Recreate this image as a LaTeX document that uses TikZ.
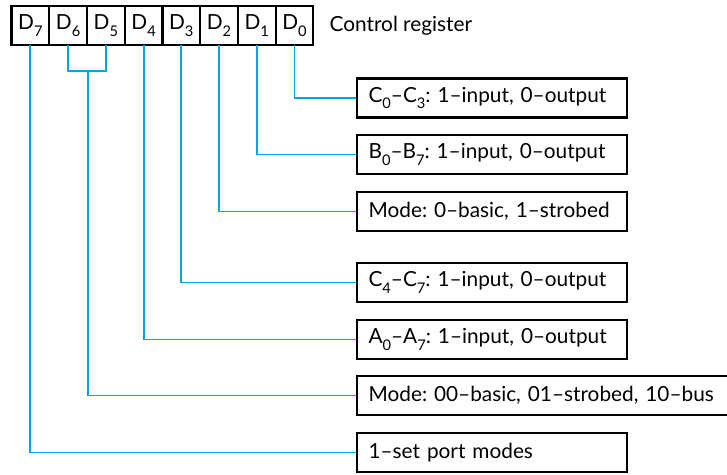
\documentclass[tikz,border=0pt]{standalone}
\usepackage{fontspec}
\setmainfont{Lato}
\usetikzlibrary{positioning}
\definecolor{wire}{RGB}{0,165,230}
\newcommand{\idx}[1]{\raisebox{-0.6ex}{\fontsize{11}{11}\selectfont #1}}
\frenchspacing

\begin{document}
\begin{tikzpicture}[
    x=0.75pt, y=-0.75pt,
    every node/.style={font=\fontsize{15.6}{18}\selectfont},
    cell/.style={draw, line width=1.6pt, minimum width=28.3pt, minimum height=29.25pt, inner sep=0pt, outer sep=0pt},
    infobox/.style={draw, line width=1.6pt, anchor=west, minimum height=29.25pt, inner xsep=9pt, text width=184.5pt, align=left},
    widebox/.style={infobox, text width=266.6pt},
    link/.style={draw=wire, line width=1.4pt}
]
\useasboundingbox (0,0) rectangle (727,474);

% Control register
\node[cell] (d7) at (30.4,25.5) {D\idx{7}};
\node[cell, right=0pt of d7] (d6) {D\idx{6}};
\node[cell, right=0pt of d6] (d5) {D\idx{5}};
\node[cell, right=0pt of d5] (d4) {D\idx{4}};
\node[cell, right=0pt of d4] (d3) {D\idx{3}};
\node[cell, right=0pt of d3] (d2) {D\idx{2}};
\node[cell, right=0pt of d2] (d1) {D\idx{1}};
\node[cell, right=0pt of d1] (d0) {D\idx{0}};
\node[right=12pt of d0, inner sep=0pt] (title) {Control register};

% Bit descriptions
\node[infobox] (c03) at (355.5,98) {C\idx{0}--C\idx{3}: 1--input, 0--output};
\node[infobox] (b07) at (355.5,154.5) {B\idx{0}--B\idx{7}: 1--input, 0--output};
\node[infobox] (modeb) at (355.5,211.5) {Mode: 0--basic, 1--strobed};
\node[infobox] (c47) at (355.5,282.5) {C\idx{4}--C\idx{7}: 1--input, 0--output};
\node[infobox] (a07) at (355.5,339.5) {A\idx{0}--A\idx{7}: 1--input, 0--output};
\node[widebox] (modea) at (355.5,395.5) {Mode: 00--basic, 01--strobed, 10--bus};
\node[infobox] (setmode) at (355.5,452.5) {1--set port modes};

% Connectors
\coordinate (join) at (88,71);
\draw[link] (d0.south) |- (c03.west);
\draw[link] (d1.south) |- (b07.west);
\draw[link] (d2.south) |- (modeb.west);
\draw[link] (d3.south) |- (c47.west);
\draw[link] (d4.south) |- (a07.west);
\draw[link] (d6.south) |- (join) -| (d5.south);
\draw[link] (join) |- (modea.west);
\draw[link] (d7.south) |- (setmode.west);
\end{tikzpicture}
\end{document}
